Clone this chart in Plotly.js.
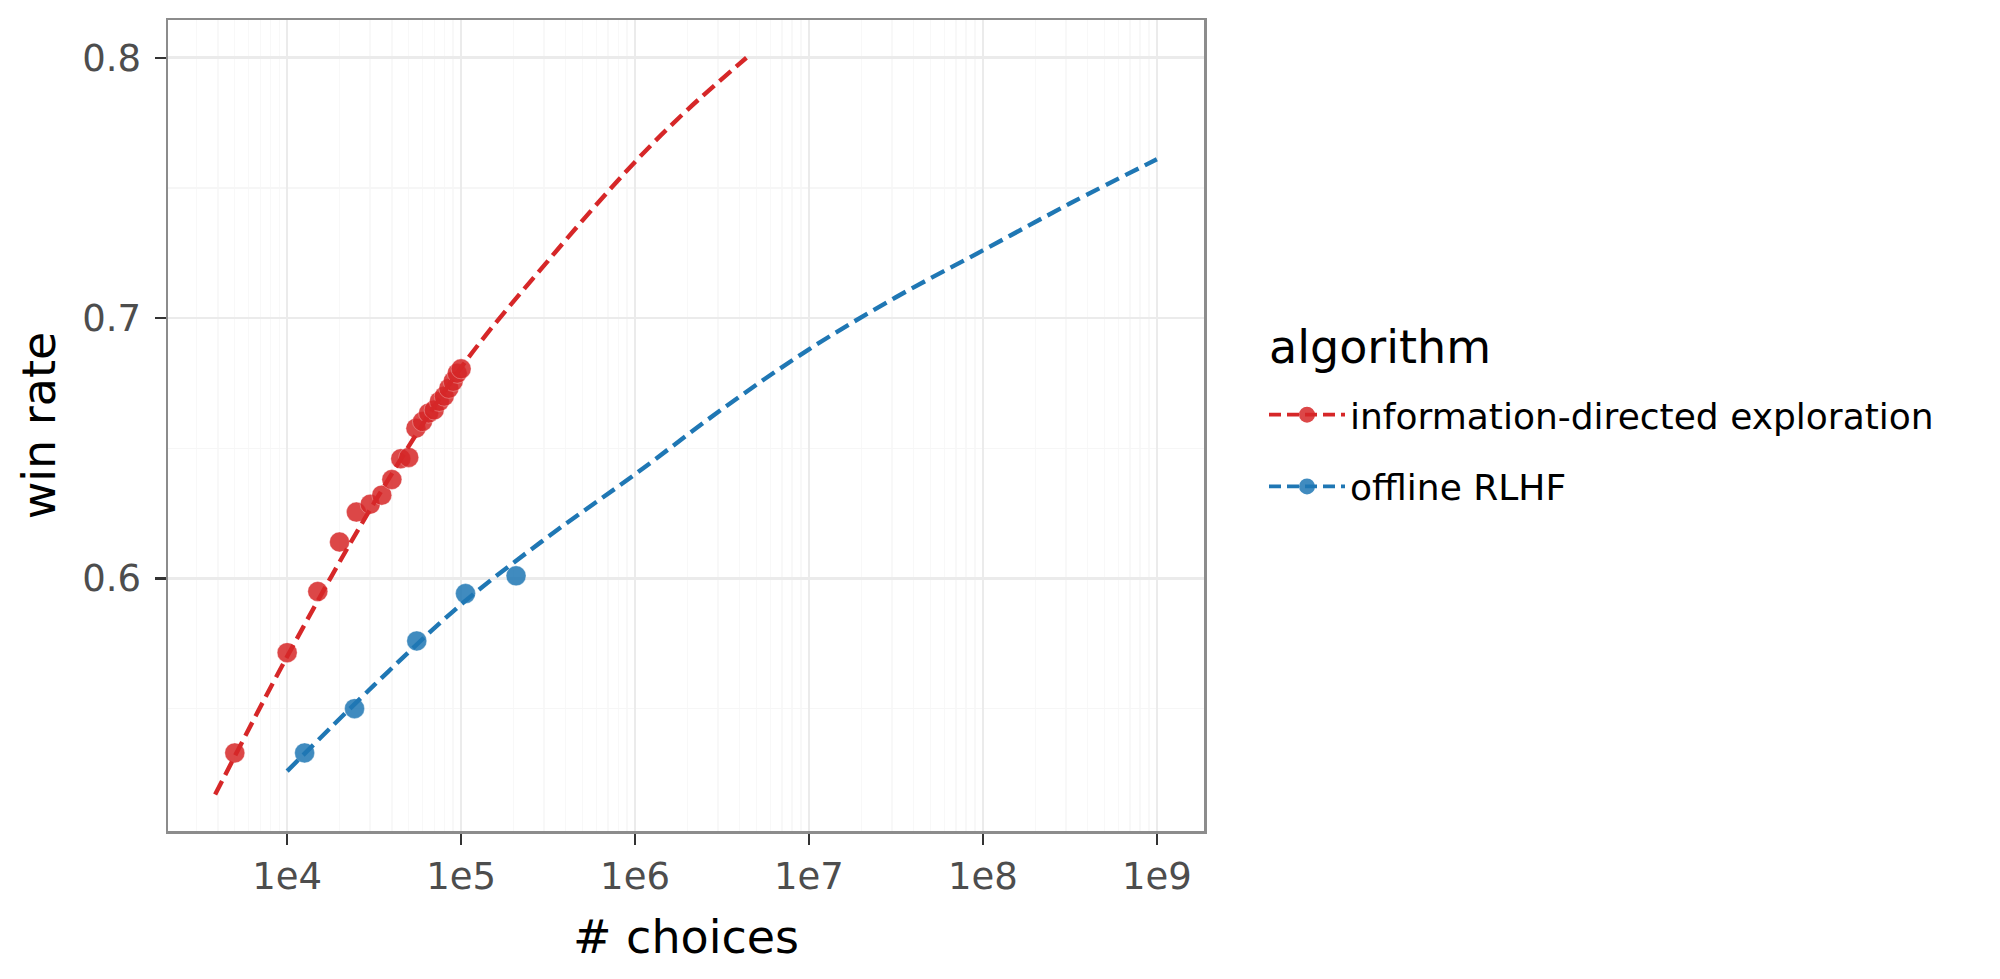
<!DOCTYPE html>
<html>
<head>
<meta charset="utf-8">
<script src="https://cdn.plot.ly/plotly-3.0.1.min.js"></script>
<style>
  html, body { margin: 0; padding: 0; background: #fff; }
  #chart { width: 2000px; height: 979px; }
</style>
</head>
<body>
<div id="chart"></div>
<script>
// observed points
var ideX = [5000, 10000, 15000, 20000, 25000, 30000, 35000, 40000, 45000, 50000,
            55000, 60000, 65000, 70000, 75000, 80000, 85000, 90000, 95000, 100000];
var ideY = [0.533, 0.5715, 0.595, 0.614, 0.6255, 0.6285, 0.632, 0.638, 0.646, 0.6465,
            0.6577, 0.6603, 0.6635, 0.6647, 0.668, 0.670, 0.673, 0.6757, 0.6788, 0.6805];
var offX = [12600, 24400, 55600, 106000, 207000];
var offY = [0.533, 0.550, 0.576, 0.5942, 0.601];

// fitted curves
var ideFitX = [3855, 10000, 31600, 100000, 316000, 1000000, 2000000, 4370000];
var ideFitY = [0.517, 0.570, 0.629, 0.681, 0.722, 0.760, 0.780, 0.800];
var offFitX = [1e4, 3.16e4, 1e5, 3.16e5, 1e6, 3.16e6, 1e7, 3.16e7, 1e8, 3.16e8, 1e9];
var offFitY = [0.526, 0.559, 0.590, 0.616, 0.640, 0.665, 0.688, 0.708, 0.726, 0.744, 0.761];

var xTicks = [1e4, 1e5, 1e6, 1e7, 1e8, 1e9];
var xTickText = ["1e4", "1e5", "1e6", "1e7", "1e8", "1e9"];
var yTicks = [0.6, 0.7, 0.8];
var yTickText = ["0.6", "0.7", "0.8"];

var RED = "#D62728";
var BLUE = "#1F77B4";

// minor grid at 2..9 of every decade
var xMinor = [];
for (var d = 3; d <= 9; d++) {
  for (var k = 2; k <= 9; k++) xMinor.push(k * Math.pow(10, d));
}

var tickFont = { family: "DejaVu Sans", size: 37, color: "#4D4D4D" };
var titleFont = { family: "DejaVu Sans", size: 46, color: "#000000" };

var traces = [
  {
    x: ideX, y: ideY, type: "scatter", mode: "markers", showlegend: false,
    marker: { color: RED, size: 20, opacity: 0.85, line: { color: "rgba(255,255,255,0.35)", width: 1 } },
    hoverinfo: "x+y"
  },
  {
    x: offX, y: offY, type: "scatter", mode: "markers", showlegend: false,
    marker: { color: BLUE, size: 20, opacity: 0.85, line: { color: "rgba(255,255,255,0.35)", width: 1 } },
    hoverinfo: "x+y"
  },
  {
    x: ideFitX, y: ideFitY, type: "scatter", mode: "lines", showlegend: false,
    line: { color: RED, width: 4.4, dash: "15px,7px", shape: "spline", smoothing: 1 }
  },
  {
    x: offFitX, y: offFitY, type: "scatter", mode: "lines", showlegend: false,
    line: { color: BLUE, width: 4.4, dash: "15px,7px", shape: "spline", smoothing: 1 }
  },
  // legend entries
  {
    x: [null], y: [null], type: "scatter", mode: "lines+markers",
    name: "information-directed exploration", legendgroup: "a",
    line: { color: RED, width: 3.8, dash: "12px,6px" },
    marker: { color: RED, size: 20, opacity: 0.85 }
  },
  {
    x: [null], y: [null], type: "scatter", mode: "lines+markers",
    name: "offline RLHF", legendgroup: "b",
    line: { color: BLUE, width: 3.8, dash: "12px,6px" },
    marker: { color: BLUE, size: 20, opacity: 0.85 }
  }
];

var layout = {
  width: 2000,
  height: 979,
  paper_bgcolor: "#ffffff",
  plot_bgcolor: "#ffffff",
  margin: { l: 168, r: 796, t: 20, b: 148, autoexpand: false },
  font: { family: "DejaVu Sans" },
  xaxis: {
    type: "log",
    range: [3.315, 9.271],
    tickmode: "array",
    tickvals: xTicks,
    ticktext: xTickText,
    tickfont: tickFont,
    ticks: "outside",
    ticklen: 11,
    tickwidth: 2.5,
    tickcolor: "#333333",
    ticklabelstandoff: 0,
    showgrid: true,
    gridcolor: "#EBEBEB",
    gridwidth: 2.7,
    minor: { tickmode: "array", tickvals: xMinor, showgrid: true, gridcolor: "#F8F8F8", gridwidth: 1.3 },
    showline: true,
    mirror: true,
    linecolor: "#8C8C8C",
    linewidth: 2.5,
    zeroline: false,
    automargin: false,
    title: { text: "# choices", font: titleFont, standoff: 24 }
  },
  yaxis: {
    range: [0.503, 0.8145],
    tickmode: "array",
    tickvals: yTicks,
    ticktext: yTickText,
    tickfont: tickFont,
    ticks: "outside",
    ticklen: 11,
    tickwidth: 2.5,
    tickcolor: "#333333",
    ticklabelstandoff: 6,
    showgrid: true,
    gridcolor: "#EBEBEB",
    gridwidth: 2.7,
    minor: { dtick: 0.05, tick0: 0, showgrid: true, gridcolor: "#F6F6F6", gridwidth: 1.3 },
    showline: true,
    mirror: true,
    linecolor: "#8C8C8C",
    linewidth: 2.5,
    zeroline: false,
    automargin: false,
    title: { text: "win rate", font: titleFont, standoff: 12 }
  },
  // legend title as its own text so the gap to the keys can match
  annotations: [
    {
      text: "algorithm",
      xref: "paper", yref: "paper",
      x: 1.0605, y: 0.597,
      xanchor: "left", yanchor: "middle",
      showarrow: false,
      font: titleFont
    }
  ],
  legend: {
    xref: "container",
    yref: "container",
    x: 0.632,
    y: 0.607,
    xanchor: "left",
    yanchor: "top",
    bgcolor: "rgba(0,0,0,0)",
    font: { family: "DejaVu Sans", size: 36, color: "#000000" },
    itemwidth: 76,
    tracegroupgap: 22,
    traceorder: "grouped"
  },
  showlegend: true
};

Plotly.newPlot("chart", traces, layout, { staticPlot: true });
</script>
</body>
</html>
